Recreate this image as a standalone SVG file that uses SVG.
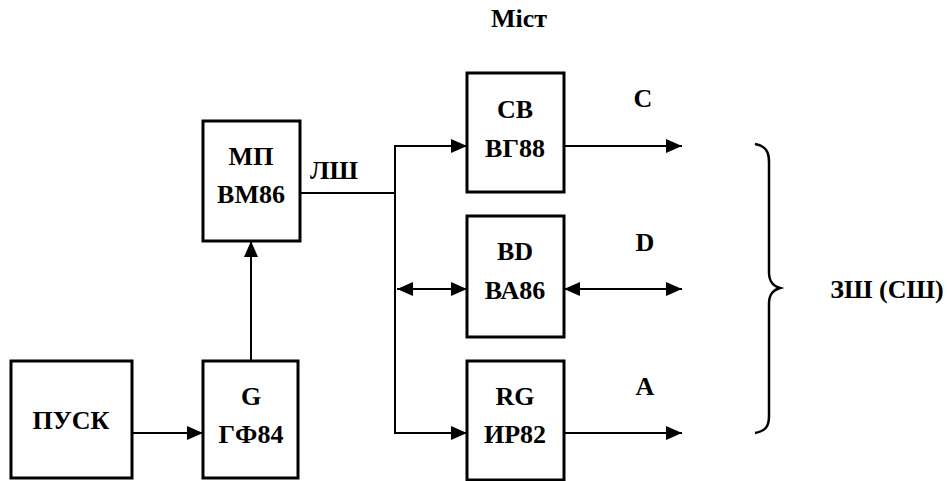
<svg xmlns="http://www.w3.org/2000/svg" width="947" height="481" viewBox="0 0 947 481">
<style>
.box{fill:#fff;stroke:#000;stroke-width:3}
.ln{fill:none;stroke:#000;stroke-width:2}
.br{fill:none;stroke:#000;stroke-width:2.5}
.t{font-family:"Liberation Serif","Times New Roman",serif;font-weight:bold;font-size:26px;fill:#000;text-anchor:middle}
</style>
<defs>
<marker id="ah" markerUnits="userSpaceOnUse" markerWidth="16" markerHeight="14" refX="16" refY="7" orient="auto-start-reverse">
<path d="M0,0 L16,7 L0,14 z" fill="#000"/>
</marker>
</defs>
<rect width="947" height="481" fill="#fff"/>
<g id="connectors">
<line class="ln" x1="132" y1="433" x2="203" y2="433" marker-end="url(#ah)"/>
<line class="ln" x1="251" y1="360" x2="251" y2="241" marker-end="url(#ah)"/>
<polyline class="ln" points="300,193 395,193"/>
<polyline class="ln" points="467,146 395,146 395,433 467,433"/>
<line class="ln" x1="395" y1="146" x2="467" y2="146" marker-end="url(#ah)"/>
<line class="ln" x1="395" y1="433" x2="467" y2="433" marker-end="url(#ah)"/>
<line class="ln" x1="397" y1="289" x2="467" y2="289" marker-start="url(#ah)" marker-end="url(#ah)"/>
<line class="ln" x1="564" y1="146" x2="682" y2="146" marker-end="url(#ah)"/>
<line class="ln" x1="564" y1="289" x2="682" y2="289" marker-start="url(#ah)" marker-end="url(#ah)"/>
<line class="ln" x1="564" y1="433" x2="682" y2="433" marker-end="url(#ah)"/>
<text class="t" x="334" y="179">ЛШ</text>
<text class="t" x="643" y="107">C</text>
<text class="t" x="645" y="251">D</text>
<text class="t" x="645" y="395">A</text>
</g>
<g id="pusk">
<rect class="box" x="11" y="361" width="121" height="117"/>
<text class="t" x="71" y="429">ПУСК</text>
</g>
<g id="gen">
<rect class="box" x="203" y="361" width="95" height="117"/>
<text class="t" x="251" y="405">G</text>
<text class="t" x="251" y="443">ГФ84</text>
</g>
<g id="mp">
<rect class="box" x="203" y="121" width="97" height="120"/>
<text class="t" x="251" y="165">МП</text>
<text class="t" x="251" y="203">ВМ86</text>
</g>
<g id="cb">
<rect class="box" x="467" y="73" width="97" height="119"/>
<text class="t" x="515" y="118">СВ</text>
<text class="t" x="515" y="157">ВГ88</text>
</g>
<g id="bd">
<rect class="box" x="467" y="216" width="97" height="121"/>
<text class="t" x="515" y="260">BD</text>
<text class="t" x="515" y="299">ВА86</text>
</g>
<g id="rg">
<rect class="box" x="467" y="361" width="97" height="119"/>
<text class="t" x="515" y="405">RG</text>
<text class="t" x="515" y="443">ИР82</text>
</g>
<g id="brace">
<path class="br" d="M755,144 C766,146 769,152 769,162 L769,272 C769,282 773,286 780,288 C773,290 769,294 769,304 L769,416 C769,426 766,431 755,433"/>
<text class="t" x="887" y="298">ЗШ (СШ)</text>
</g>
<g id="title">
<text class="t" x="519" y="27">Міст</text>
</g>
</svg>
